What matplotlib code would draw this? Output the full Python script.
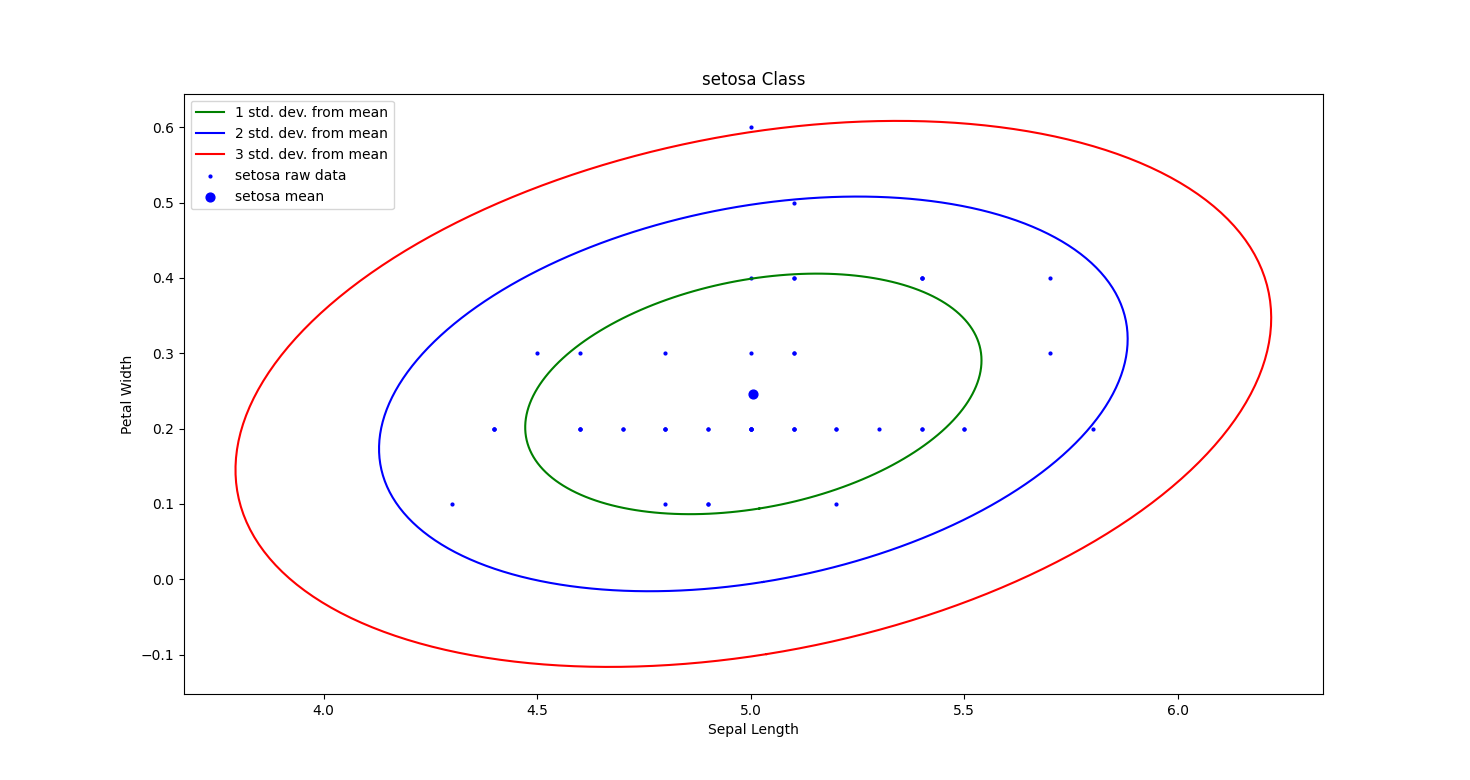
import numpy as np
import matplotlib
matplotlib.use("Agg")
import matplotlib.pyplot as plt

# setosa sepal length / petal width
sepal_length = [5.1, 4.9, 4.7, 4.6, 5.0, 5.4, 4.6, 5.0, 4.4, 4.9,
                5.4, 4.8, 4.8, 4.3, 5.8, 5.7, 5.4, 5.1, 5.7, 5.1,
                5.4, 5.1, 4.6, 5.1, 4.8, 5.0, 5.0, 5.2, 5.2, 4.7,
                4.8, 5.4, 5.2, 5.5, 4.9, 5.0, 5.5, 4.9, 4.4, 5.1,
                5.0, 4.5, 4.4, 5.0, 5.1, 4.8, 5.1, 4.6, 5.3, 5.0]
petal_width = [0.2, 0.2, 0.2, 0.2, 0.2, 0.4, 0.3, 0.2, 0.2, 0.1,
               0.2, 0.2, 0.1, 0.1, 0.2, 0.4, 0.4, 0.3, 0.3, 0.3,
               0.2, 0.4, 0.2, 0.5, 0.2, 0.2, 0.4, 0.2, 0.2, 0.2,
               0.2, 0.4, 0.1, 0.2, 0.2, 0.2, 0.2, 0.1, 0.2, 0.2,
               0.3, 0.3, 0.2, 0.6, 0.4, 0.3, 0.2, 0.2, 0.2, 0.2]
levels = [0.6827, 0.9545, 0.9973]
level_colors = ['green', 'blue', 'red']

pts = np.array([sepal_length, petal_width])
mean = pts.mean(axis=1)
cov = np.cov(pts)
vals, vecs = np.linalg.eigh(cov)

fig, ax = plt.subplots(figsize=(14.7, 7.8), dpi=100)
t = np.linspace(0, 2 * np.pi, 200)
circle = np.array([np.cos(t), np.sin(t)])
for i, (p, c) in enumerate(zip(levels, level_colors)):
    scale = np.sqrt(-2 * np.log(1 - p))
    ell = vecs @ (np.sqrt(vals)[:, None] * circle) * scale + mean[:, None]
    ax.plot(ell[0], ell[1], color=c, label=f'{i + 1} std. dev. from mean')

ax.scatter(sepal_length, petal_width, s=4, color='blue', label='setosa raw data')
ax.scatter([mean[0]], [mean[1]], s=40, color='blue', label='setosa mean')
ax.set_title('setosa Class')
ax.set_xlabel('Sepal Length')
ax.set_ylabel('Petal Width')
ax.legend(loc='upper left')
plt.savefig('out.png')
